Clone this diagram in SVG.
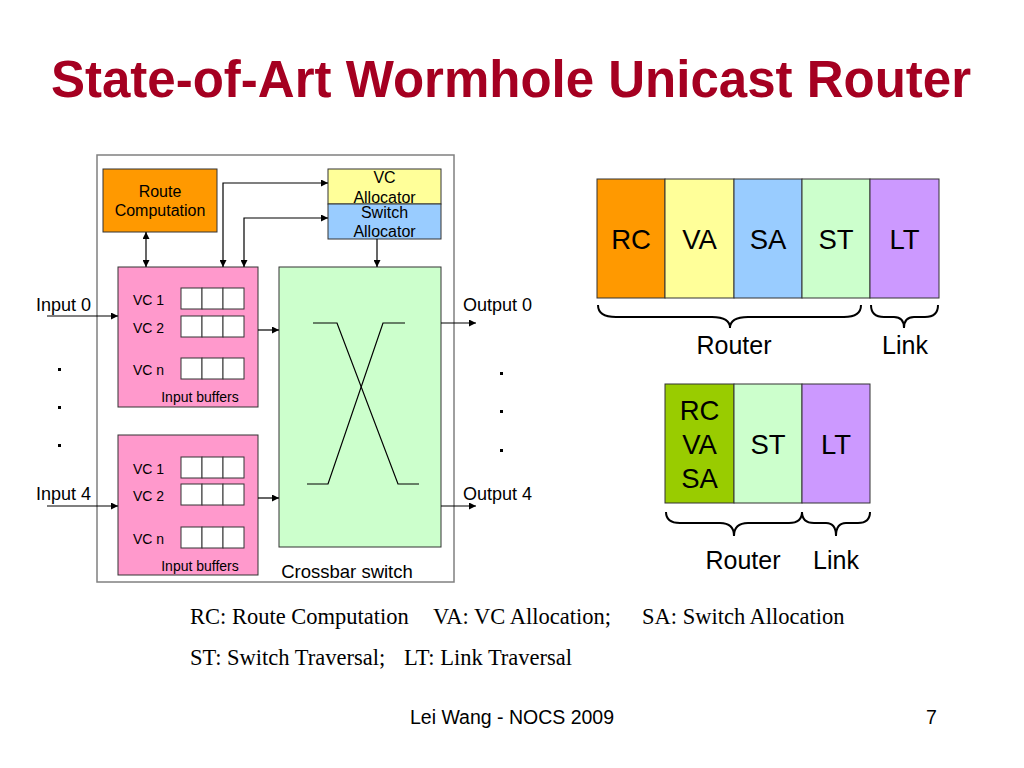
<svg xmlns="http://www.w3.org/2000/svg" width="1024" height="768" viewBox="0 0 1024 768">
<defs>
<marker id="ah" viewBox="0 0 10 10" refX="10" refY="5" markerWidth="7" markerHeight="7" markerUnits="userSpaceOnUse" orient="auto-start-reverse">
<path d="M0,0 L10,5 L0,10 z" fill="#000"/>
</marker>
<style>
.t{font-family:"Liberation Sans",Arial,sans-serif;fill:#000}
.box{stroke:#333;stroke-width:1}
.cell{fill:#fff;stroke:#333;stroke-width:1}
.ln{stroke:#000;stroke-width:1.2;fill:none}
.arr{stroke:#000;stroke-width:1.2;fill:none;marker-end:url(#ah)}
.arr2{stroke:#000;stroke-width:1.2;fill:none;marker-end:url(#ah);marker-start:url(#ah)}
.brace{stroke:#000;stroke-width:2;fill:none}
.tm{font-family:"Liberation Serif","Times New Roman",serif;font-size:22.5px;fill:#000}
.dot{fill:#000}
</style>
</defs>
<rect width="1024" height="768" fill="#fff"/>
<text x="51" y="97" font-family="Liberation Sans,Arial,sans-serif" font-weight="bold" font-size="51" fill="#A50021" textLength="920" lengthAdjust="spacingAndGlyphs">State-of-Art Wormhole Unicast Router</text>

<g id="router-frame"><rect x="97" y="155" width="357" height="427" fill="none" stroke="#808080" stroke-width="1.5"/></g>

<g id="route-computation">
<rect class="box" x="103" y="169" width="114" height="63" fill="#FF9900"/>
<text class="t" x="160" y="197" font-size="16" text-anchor="middle">Route</text>
<text class="t" x="160" y="216" font-size="16" text-anchor="middle">Computation</text>
</g>
<g id="vc-allocator">
<rect class="box" x="328" y="169" width="113" height="35" fill="#FFFF99"/>
<text class="t" x="384.5" y="183" font-size="16" text-anchor="middle">VC</text>
<text class="t" x="384.5" y="203" font-size="16" text-anchor="middle">Allocator</text>
</g>
<g id="switch-allocator">
<rect class="box" x="328" y="204" width="113" height="35" fill="#99CCFF"/>
<text class="t" x="384.5" y="218" font-size="16" text-anchor="middle">Switch</text>
<text class="t" x="384.5" y="237" font-size="16" text-anchor="middle">Allocator</text>
</g>

<g id="input-buffers-0">
<rect class="box" x="118" y="267" width="140" height="140" fill="#FF99CC"/>
<text class="t" x="133" y="305" font-size="14">VC 1</text>
<text class="t" x="133" y="333" font-size="14">VC 2</text>
<text class="t" x="133" y="375" font-size="14">VC n</text>
<rect class="cell" x="181" y="288" width="21" height="21"/><rect class="cell" x="202" y="288" width="21" height="21"/><rect class="cell" x="223" y="288" width="21" height="21"/>
<rect class="cell" x="181" y="316" width="21" height="21"/><rect class="cell" x="202" y="316" width="21" height="21"/><rect class="cell" x="223" y="316" width="21" height="21"/>
<rect class="cell" x="181" y="358" width="21" height="21"/><rect class="cell" x="202" y="358" width="21" height="21"/><rect class="cell" x="223" y="358" width="21" height="21"/>
<text class="t" x="200" y="402" font-size="14" text-anchor="middle">Input buffers</text>
</g>

<g id="input-buffers-4">
<rect class="box" x="118" y="435" width="140" height="140" fill="#FF99CC"/>
<text class="t" x="133" y="474" font-size="14">VC 1</text>
<text class="t" x="133" y="501" font-size="14">VC 2</text>
<text class="t" x="133" y="544" font-size="14">VC n</text>
<rect class="cell" x="181" y="457" width="21" height="21"/><rect class="cell" x="202" y="457" width="21" height="21"/><rect class="cell" x="223" y="457" width="21" height="21"/>
<rect class="cell" x="181" y="484" width="21" height="21"/><rect class="cell" x="202" y="484" width="21" height="21"/><rect class="cell" x="223" y="484" width="21" height="21"/>
<rect class="cell" x="181" y="527" width="21" height="21"/><rect class="cell" x="202" y="527" width="21" height="21"/><rect class="cell" x="223" y="527" width="21" height="21"/>
<text class="t" x="200" y="571" font-size="14" text-anchor="middle">Input buffers</text>
</g>

<g id="crossbar">
<rect class="box" x="279" y="267" width="162" height="280" fill="#CCFFCC"/>
<polyline class="ln" points="313,323 337,323 398,484 419,484"/>
<polyline class="ln" points="405,323 383,323 328,484 307,484"/>
<text class="t" x="347" y="578" font-size="18.5" text-anchor="middle">Crossbar switch</text>
</g>

<g id="io-labels">
<text class="t" x="36" y="311" font-size="18">Input 0</text>
<text class="t" x="36" y="500" font-size="18">Input 4</text>
<text class="t" x="463" y="311" font-size="18">Output 0</text>
<text class="t" x="463" y="500" font-size="18">Output 4</text>
<rect class="dot" x="58" y="368" width="3" height="3"/>
<rect class="dot" x="58" y="406" width="3" height="3"/>
<rect class="dot" x="58" y="444" width="3" height="3"/>
<rect class="dot" x="500" y="372" width="3" height="3"/>
<rect class="dot" x="500" y="410" width="3" height="3"/>
<rect class="dot" x="500" y="449" width="3" height="3"/>
</g>

<g id="connectors">
<line class="arr" x1="47" y1="316" x2="118" y2="316"/>
<line class="arr" x1="47" y1="506" x2="118" y2="506"/>
<line class="arr" x1="258" y1="330" x2="279" y2="330"/>
<line class="arr" x1="258" y1="498" x2="279" y2="498"/>
<line class="arr" x1="441" y1="323" x2="476" y2="323"/>
<line class="arr" x1="441" y1="506" x2="476" y2="506"/>
<line class="arr2" x1="146" y1="232" x2="146" y2="267"/>
<polyline class="arr2" points="223,267 223,183 328,183"/>
<polyline class="arr2" points="244,267 244,218 328,218"/>
<line class="arr" x1="377" y1="239" x2="377" y2="267"/>
</g>

<g id="pipeline-5">
<rect class="box" x="597" y="179" width="68" height="119" fill="#FF9900"/>
<rect class="box" x="665" y="179" width="69" height="119" fill="#FFFF99"/>
<rect class="box" x="734" y="179" width="68" height="119" fill="#99CCFF"/>
<rect class="box" x="802" y="179" width="68" height="119" fill="#CCFFCC"/>
<rect class="box" x="870" y="179" width="69" height="119" fill="#CC99FF"/>
<text class="t" x="631" y="249" font-size="27.5" text-anchor="middle">RC</text>
<text class="t" x="699.5" y="249" font-size="27.5" text-anchor="middle">VA</text>
<text class="t" x="768" y="249" font-size="27.5" text-anchor="middle">SA</text>
<text class="t" x="836" y="249" font-size="27.5" text-anchor="middle">ST</text>
<text class="t" x="904.5" y="249" font-size="27.5" text-anchor="middle">LT</text>
<path class="brace" d="M598,305 Q598,317 616,317 L712,317 Q730,317 730,328 Q730,317 748,317 L844,317 Q861,317 861,305"/>
<path class="brace" d="M871,305 Q871,317 884,317 L894,317 Q904,317 904,328 Q904,317 914,317 L925,317 Q938,317 938,305"/>
<text class="t" x="734" y="354" font-size="25" text-anchor="middle">Router</text>
<text class="t" x="905" y="354" font-size="25" text-anchor="middle">Link</text>
</g>

<g id="pipeline-3">
<rect class="box" x="665" y="384" width="69" height="119" fill="#99CC00"/>
<rect class="box" x="734" y="384" width="68" height="119" fill="#CCFFCC"/>
<rect class="box" x="802" y="384" width="68" height="119" fill="#CC99FF"/>
<text class="t" x="699.5" y="420" font-size="27.5" text-anchor="middle">RC</text>
<text class="t" x="699.5" y="454" font-size="27.5" text-anchor="middle">VA</text>
<text class="t" x="699.5" y="488" font-size="27.5" text-anchor="middle">SA</text>
<text class="t" x="768" y="454" font-size="27.5" text-anchor="middle">ST</text>
<text class="t" x="836" y="454" font-size="27.5" text-anchor="middle">LT</text>
<path class="brace" d="M666,512 Q666,523 680,523 L720,523 Q734,523 734,536 Q734,523 748,523 L789,523 Q802,523 802,512"/>
<path class="brace" d="M802,512 Q802,523 814,523 L826,523 Q836,523 836,536 Q836,523 846,523 L858,523 Q870,523 870,512"/>
<text class="t" x="743" y="569" font-size="25" text-anchor="middle">Router</text>
<text class="t" x="836" y="569" font-size="25" text-anchor="middle">Link</text>
</g>

<g id="legend">
<text class="tm" x="190" y="624">RC: Route Computation</text>
<text class="tm" x="433" y="624">VA: VC Allocation;</text>
<text class="tm" x="642" y="624">SA: Switch Allocation</text>
<text class="tm" x="190" y="665">ST: Switch Traversal;</text>
<text class="tm" x="404" y="665">LT: Link Traversal</text>
</g>
<g id="footer">
<text class="t" x="512" y="724" font-size="19.5" text-anchor="middle">Lei Wang - NOCS 2009</text>
<text class="t" x="926" y="724" font-size="19.5">7</text>
</g>
</svg>
